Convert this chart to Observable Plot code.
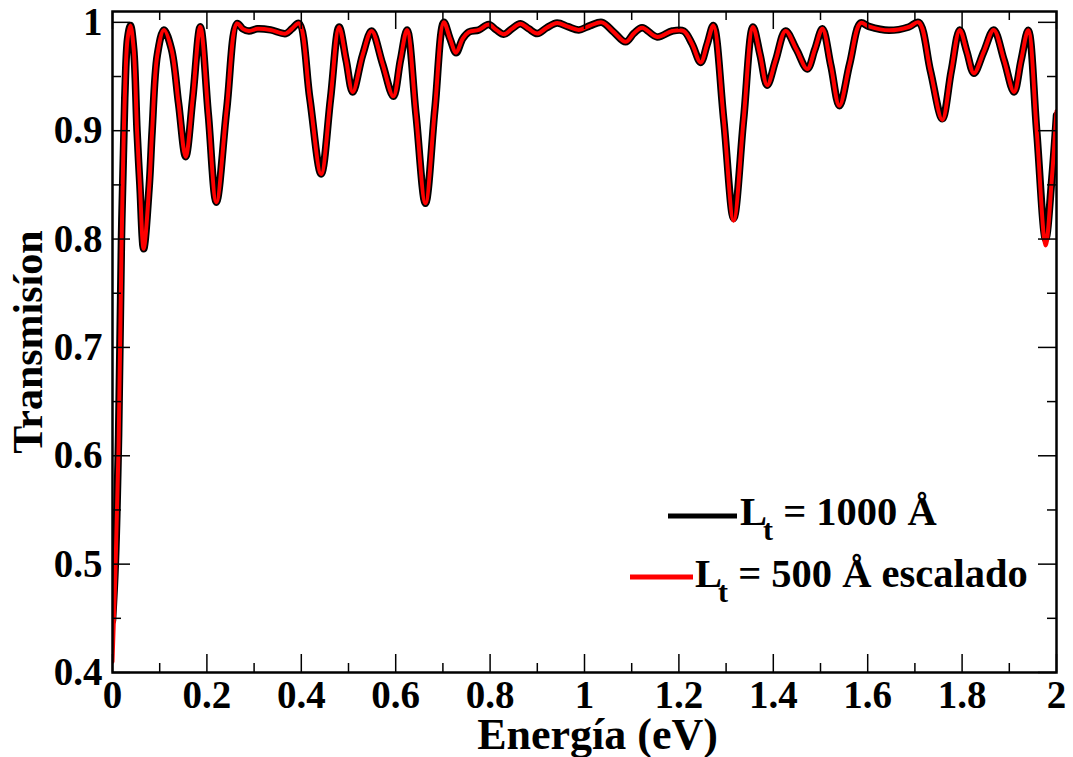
<!DOCTYPE html>
<html>
<head>
<meta charset="utf-8">
<script src="https://cdn.jsdelivr.net/npm/d3@7"></script>
<script src="https://cdn.jsdelivr.net/npm/@observablehq/plot@0.6"></script>
<style>
  html, body { margin: 0; padding: 0; background: #fff; }
  #chart { width: 1073px; height: 757px; }
</style>
</head>
<body>
<div id="chart"></div>
<script>
// ---- data ----
const energy = [0, 0.006, 0.013, 0.019, 0.026, 0.032, 0.038, 0.045, 0.052, 0.058, 0.066, 0.078, 0.084, 0.095, 0.109,
  0.125, 0.140, 0.155, 0.170, 0.186, 0.203, 0.220, 0.242, 0.264, 0.276, 0.289, 0.307, 0.335, 0.367, 0.380, 0.395,
  0.418, 0.442, 0.462, 0.480, 0.495, 0.509, 0.530, 0.549, 0.572, 0.595, 0.610, 0.624, 0.643, 0.663, 0.683, 0.702,
  0.715, 0.728, 0.742, 0.755, 0.776, 0.797, 0.813, 0.829, 0.846, 0.864, 0.882, 0.900, 0.920, 0.942, 0.965, 0.988,
  1.012, 1.037, 1.062, 1.087, 1.105, 1.122, 1.154, 1.186, 1.210, 1.228, 1.246, 1.260, 1.273, 1.295, 1.316, 1.337,
  1.357, 1.372, 1.387, 1.405, 1.426, 1.449, 1.472, 1.488, 1.504, 1.522, 1.540, 1.562, 1.585, 1.602, 1.645, 1.687,
  1.708, 1.733, 1.758, 1.777, 1.795, 1.810, 1.825, 1.846, 1.867, 1.889, 1.910, 1.925, 1.940, 1.958, 1.977, 1.990, 2.0];

const tBlack = [0.448, 0.50, 0.62, 0.80, 0.93, 0.985, 0.997, 0.975, 0.90, 0.85, 0.791, 0.85, 0.90, 0.97, 0.993,
  0.975, 0.925, 0.876, 0.93, 0.996, 0.915, 0.834, 0.92, 0.999, 0.994, 0.992, 0.994, 0.993, 0.9896, 0.994, 0.999,
  0.93, 0.860, 0.93, 0.9957, 0.965, 0.9357, 0.97, 0.992, 0.962, 0.9317, 0.965, 0.993, 0.915, 0.833, 0.92, 1.0,
  0.985, 0.972, 0.985, 0.991, 0.993, 0.998, 0.993, 0.989, 0.994, 0.9988, 0.994, 0.9896, 0.995, 0.9994, 0.996, 0.993,
  0.997, 1.0, 0.991, 0.982, 0.99, 0.995, 0.9865, 0.992, 0.992, 0.98, 0.963, 0.98, 0.997, 0.91, 0.819, 0.91,
  0.9957, 0.97, 0.942, 0.965, 0.992, 0.975, 0.957, 0.975, 0.994, 0.96, 0.923, 0.962, 0.9994, 0.9963, 0.9926, 0.9957,
  1.0, 0.955, 0.911, 0.955, 0.993, 0.973, 0.953, 0.973, 0.993, 0.965, 0.9357, 0.965, 0.9926, 0.90, 0.800, 0.855, 0.914];

const tRed = [0.41, 0.49, 0.61, 0.79, 0.93, 0.985, 0.997, 0.975, 0.90, 0.85, 0.791, 0.85, 0.90, 0.97, 0.993,
  0.975, 0.925, 0.876, 0.93, 0.996, 0.915, 0.834, 0.92, 0.999, 0.994, 0.992, 0.994, 0.993, 0.9896, 0.994, 0.999,
  0.93, 0.860, 0.93, 0.9957, 0.965, 0.9357, 0.97, 0.992, 0.962, 0.9317, 0.965, 0.993, 0.915, 0.833, 0.92, 1.0,
  0.985, 0.972, 0.985, 0.991, 0.993, 0.998, 0.993, 0.989, 0.994, 0.9988, 0.994, 0.9896, 0.995, 0.9994, 0.996, 0.993,
  0.997, 1.0, 0.991, 0.982, 0.99, 0.995, 0.9865, 0.992, 0.992, 0.98, 0.963, 0.98, 0.997, 0.91, 0.817, 0.91,
  0.9957, 0.97, 0.942, 0.965, 0.992, 0.975, 0.957, 0.975, 0.994, 0.96, 0.923, 0.962, 0.9994, 0.9963, 0.9926, 0.9957,
  1.0, 0.955, 0.910, 0.955, 0.993, 0.973, 0.953, 0.973, 0.993, 0.965, 0.9357, 0.965, 0.9926, 0.90, 0.794, 0.855, 0.918];

const xMajor = [0, 0.2, 0.4, 0.6, 0.8, 1.0, 1.2, 1.4, 1.6, 1.8, 2.0];
const xMinor = [0.1, 0.3, 0.5, 0.7, 0.9, 1.1, 1.3, 1.5, 1.7, 1.9];
const yMajor = [0.4, 0.5, 0.6, 0.7, 0.8, 0.9, 1.0];
const yMinor = [0.45, 0.55, 0.65, 0.75, 0.85, 0.95];
const xTickLabels = ["0", "0.2", "0.4", "0.6", "0.8", "1", "1.2", "1.4", "1.6", "1.8", "2"];
const yTickLabels = ["0.4", "0.5", "0.6", "0.7", "0.8", "0.9", "1"];

const xTitle = "Energía (eV)";
const yTitle = "Transmisíon";
const seriesNames = ["1000 Å", "500 Å escalado"];
const seriesColors = ["#000000", "#ff0000"];

// ---- tables ----
const blackData = energy.map((e, i) => ({e, t: tBlack[i]}));
const redData = energy.map((e, i) => ({e, t: tRed[i]}));

const W = 1073, H = 757;
const mL = 112, mR = 17, mT = 11, mB = 85;
const frameH = H - mT - mB;
const frameW = W - mL - mR;
const majorLen = 18, minorLen = 9;
const font = "'Liberation Serif', 'Times New Roman', Times, serif";

const chart = Plot.plot({
  width: W,
  height: H,
  marginLeft: mL,
  marginRight: mR,
  marginTop: mT,
  marginBottom: mB,
  style: {fontFamily: font, fontSize: "39px", fontWeight: "bold", background: "#fff", color: "#000"},
  x: {domain: [0, 2]},
  y: {domain: [0.4, 1.01]},
  marks: [
    Plot.line(blackData, {x: "e", y: "t", stroke: seriesColors[0], strokeWidth: 7.5, curve: "catmull-rom", clip: true}),
    Plot.line(redData, {x: "e", y: "t", stroke: seriesColors[1], strokeWidth: 4, curve: "catmull-rom", clip: true}),
    // inward ticks: bottom/top
    Plot.tickX(xMajor, {x: d => d, stroke: "#000", strokeWidth: 1.5, insetTop: frameH - majorLen}),
    Plot.tickX(xMinor, {x: d => d, stroke: "#000", strokeWidth: 1.5, insetTop: frameH - minorLen}),
    Plot.tickX(xMajor, {x: d => d, stroke: "#000", strokeWidth: 1.5, insetBottom: frameH - majorLen}),
    Plot.tickX(xMinor, {x: d => d, stroke: "#000", strokeWidth: 1.5, insetBottom: frameH - minorLen}),
    // inward ticks: left/right
    Plot.tickY(yMajor, {y: d => d, stroke: "#000", strokeWidth: 1.5, insetRight: frameW - majorLen}),
    Plot.tickY(yMinor, {y: d => d, stroke: "#000", strokeWidth: 1.5, insetRight: frameW - minorLen}),
    Plot.tickY(yMajor, {y: d => d, stroke: "#000", strokeWidth: 1.5, insetLeft: frameW - majorLen}),
    Plot.tickY(yMinor, {y: d => d, stroke: "#000", strokeWidth: 1.5, insetLeft: frameW - minorLen}),
    Plot.frame({stroke: "#000", strokeWidth: 2.5}),
    Plot.axisX({ticks: xMajor, tickFormat: (d, i) => xTickLabels[i], tickSize: 0, tickPadding: 8, label: null}),
    Plot.axisY({ticks: yMajor, tickFormat: (d, i) => yTickLabels[i], tickSize: 0, tickPadding: 10, label: null}),
    Plot.text([xTitle], {text: d => d, frameAnchor: "bottom", textAnchor: "middle", lineAnchor: "bottom", dy: 76, dx: 13, fontSize: 44, fontWeight: "bold"}),
    Plot.text([yTitle], {text: d => d, frameAnchor: "left", textAnchor: "middle", lineAnchor: "middle", rotate: -90, dx: -84, fontSize: 42, fontWeight: "bold"})
  ]
});

document.getElementById("chart").appendChild(chart);

// ---- legend (drawn inside the plot's svg) ----
const svg = d3.select(chart.tagName.toLowerCase() === "svg" ? chart : chart.querySelector("svg"));
const legend = svg.append("g").attr("font-family", font).attr("font-weight", "bold")
  .attr("font-size", 40.5).attr("text-anchor", "start");
const legendItems = [
  {name: seriesNames[0], color: seriesColors[0], x1: 668, x2: 737, ly: 516, tx: 740, ty: 525},
  {name: seriesNames[1], color: seriesColors[1], x1: 630, x2: 693, ly: 577, tx: 695, ty: 587}
];
legendItems.forEach(it => {
  legend.append("line").attr("x1", it.x1).attr("x2", it.x2).attr("y1", it.ly).attr("y2", it.ly)
    .attr("stroke", it.color).attr("stroke-width", 5);
  const t = legend.append("text").attr("x", it.tx).attr("y", it.ty).attr("fill", "#000").attr("text-anchor", "start");
  t.append("tspan").text("L");
  t.append("tspan").attr("dy", 15).attr("dx", -4).attr("font-size", 30).text("t");
  t.append("tspan").attr("dy", -15).text(" = " + it.name);
});
</script>
</body>
</html>
